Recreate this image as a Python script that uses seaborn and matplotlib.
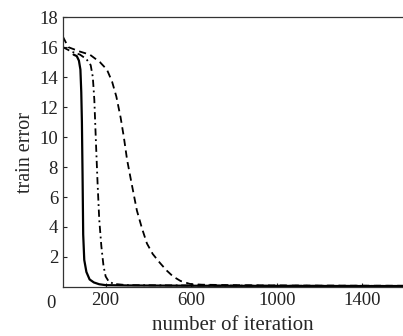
import numpy as np
import pandas as pd
import matplotlib
matplotlib.use("Agg")
import matplotlib.pyplot as plt
import seaborn as sns

sns.set_style("ticks")
plt.rcParams['font.family'] = ['Liberation Serif', 'DejaVu Serif']

# curves
solid_it = [50, 65, 75, 82, 86, 89, 92, 95, 100, 110, 125, 145, 170, 200, 300, 600, 1000, 1400, 1590]
solid_err = [15.5, 15.4, 15.1, 14.5, 13.0, 11.0, 7.5, 3.5, 1.8, 1.0, 0.5, 0.3, 0.18, 0.12, 0.1, 0.08, 0.07, 0.06, 0.06]

dashdot_it = [0, 40, 80, 110, 130, 140, 147, 155, 162, 170, 180, 190, 200, 215, 240, 300, 600, 1000, 1590]
dashdot_err = [16.0, 15.7, 15.5, 15.2, 14.8, 14.0, 12.5, 9.5, 7.0, 4.5, 2.7, 1.4, 0.7, 0.35, 0.2, 0.12, 0.1, 0.08, 0.07]

dashed_it = [0, 25, 80, 126, 173, 206, 230, 250, 270, 285, 300, 320, 346, 370, 393, 420, 454, 485, 515, 550, 594, 650, 800, 1000, 1200, 1590]
dashed_err = [16.7, 16.0, 15.7, 15.5, 15.0, 14.5, 13.7, 12.7, 11.3, 10.0, 8.5, 7.0, 5.1, 3.9, 2.9, 2.2, 1.6, 1.1, 0.7, 0.4, 0.2, 0.15, 0.12, 0.1, 0.09, 0.08]

xticks = [200, 600, 1000, 1400]
yticks = [2, 4, 6, 8, 10, 12, 14, 16, 18]

fig = plt.figure(figsize=(4.03, 3.36), dpi=100)
ax = fig.add_axes([0.156, 0.146, 0.844, 0.803])

sns.lineplot(x=dashed_it, y=dashed_err, ax=ax, color='black', lw=1.3, linestyle=(0, (4, 2.5)), sort=False)
sns.lineplot(x=dashdot_it, y=dashdot_err, ax=ax, color='black', lw=1.3, linestyle=(0, (4, 2, 1, 2)), sort=False)
sns.lineplot(x=solid_it, y=solid_err, ax=ax, color='black', lw=1.6, sort=False)

ax.set_xlim(0, 1590)
ax.set_ylim(0, 18)
ax.set_xticks(xticks)
ax.set_yticks(yticks)
ax.tick_params(direction='in', length=3, width=0.8, labelsize=13.5, colors='#222222')
ax.text(-0.035, -0.03, '0', transform=ax.transAxes, ha='center', va='top', fontsize=13.5, color='#222222')
ax.spines['right'].set_visible(False)
for s in ['left', 'bottom', 'top']:
    ax.spines[s].set_linewidth(0.9)
    ax.spines[s].set_color('#333333')

ax.set_xlabel('number of iteration', fontsize=15, labelpad=5)
ax.set_ylabel('train error', fontsize=14.5, labelpad=3)

fig.savefig('out.png', dpi=100)
